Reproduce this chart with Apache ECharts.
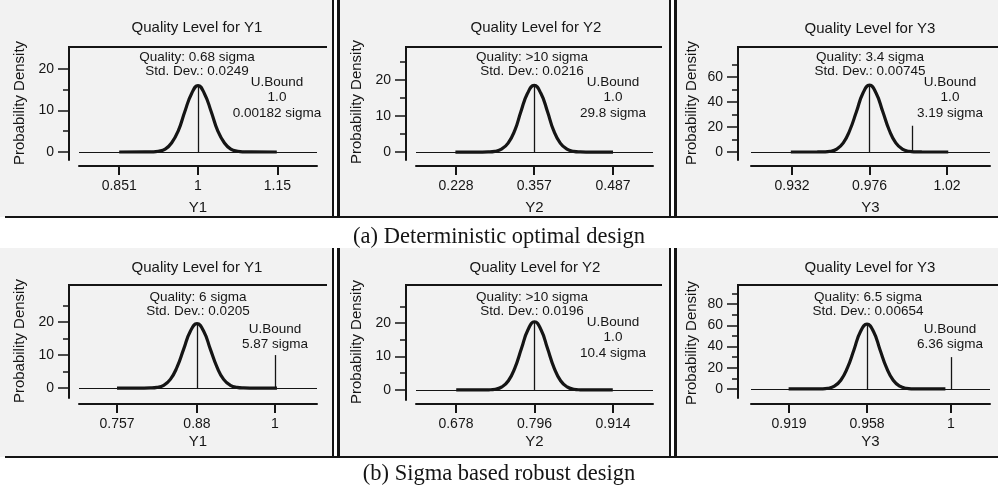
<!DOCTYPE html>
<html>
<head>
<meta charset="utf-8">
<script src="https://cdn.jsdelivr.net/npm/echarts@6.0.0/dist/echarts.min.js"></script>
<style>
html, body { margin: 0; padding: 0; background: #fff; }
#wrap { position: relative; width: 998px; height: 490px; }
#wrap .bg { position: absolute; z-index: 0; }
#chart { position: absolute; left: 0; top: 0; width: 998px; height: 490px; z-index: 1; }
</style>
</head>
<body>
<div id="wrap"><div id="chart"></div></div>
<script>
// (a) deterministic optimal design - density curves
var a1X = [0.851, 0.900, 0.913, 0.925, 0.938, 0.950, 0.963, 0.975, 0.988, 1.000, 1.012, 1.025, 1.037, 1.050, 1.062, 1.075, 1.087, 1.100, 1.149];
var a1Y = [0, 0.005, 0.035, 0.18, 0.70, 2.17, 5.20, 9.70, 14.1, 16.0, 14.1, 9.70, 5.20, 2.17, 0.70, 0.18, 0.035, 0.005, 0];
var a2X = [0.227, 0.271, 0.281, 0.292, 0.303, 0.314, 0.325, 0.335, 0.346, 0.357, 0.368, 0.379, 0.389, 0.400, 0.411, 0.422, 0.433, 0.443, 0.487];
var a2Y = [0, 0.006, 0.04, 0.21, 0.81, 2.50, 6.01, 11.2, 16.3, 18.5, 16.3, 11.2, 6.01, 2.50, 0.81, 0.21, 0.04, 0.006, 0];
var a3X = [0.9313, 0.9462, 0.9499, 0.9537, 0.9574, 0.9611, 0.9648, 0.9686, 0.9723, 0.976, 0.9797, 0.9835, 0.9872, 0.9909, 0.9946, 0.9984, 1.0021, 1.0058, 1.0207];
var a3Y = [0, 0.02, 0.12, 0.59, 2.35, 7.24, 17.4, 32.4, 47.2, 53.5, 47.2, 32.4, 17.4, 7.24, 2.35, 0.59, 0.12, 0.02, 0];

// (b) sigma based robust design
var b1X = [0.757, 0.798, 0.8083, 0.8185, 0.8288, 0.839, 0.8493, 0.8595, 0.8698, 0.88, 0.8903, 0.9005, 0.9108, 0.921, 0.9313, 0.9415, 0.9518, 0.962, 1.003];
var b1Y = [0, 0.007, 0.043, 0.22, 0.86, 2.64, 6.33, 11.8, 17.2, 19.5, 17.2, 11.8, 6.33, 2.64, 0.86, 0.22, 0.043, 0.007, 0];
var b2X = [0.6784, 0.7176, 0.7274, 0.7372, 0.747, 0.7568, 0.7666, 0.7764, 0.7862, 0.796, 0.8058, 0.8156, 0.8254, 0.8352, 0.845, 0.8548, 0.8646, 0.8744, 0.9136];
var b2Y = [0, 0.007, 0.045, 0.23, 0.90, 2.76, 6.62, 12.4, 18.0, 20.4, 18.0, 12.4, 6.62, 2.76, 0.90, 0.23, 0.045, 0.007, 0];
var b3X = [0.9188, 0.9318, 0.9351, 0.9384, 0.9417, 0.9449, 0.9482, 0.9515, 0.9547, 0.958, 0.9613, 0.9645, 0.9678, 0.9711, 0.9744, 0.9776, 0.9809, 0.9842, 0.9972];
var b3Y = [0, 0.02, 0.13, 0.68, 2.68, 8.25, 19.8, 37.0, 53.8, 61.0, 53.8, 37.0, 19.8, 8.25, 2.68, 0.68, 0.13, 0.02, 0];

// x tick labels (left, mean, right)
var a1Ticks = [0.851, 1, 1.15];
var a2Ticks = [0.228, 0.357, 0.487];
var a3Ticks = [0.932, 0.976, 1.02];
var b1Ticks = [0.757, 0.88, 1];
var b2Ticks = [0.678, 0.796, 0.914];
var b3Ticks = [0.919, 0.958, 1];

// y ticks
var yTicks20 = [0, 10, 20];
var yMinor20 = [5, 15, 25];
var yTicksA3 = [0, 20, 40, 60];
var yTicksB3 = [0, 20, 40, 60, 80];
var yMinor80 = [10, 30, 50, 70, 90];

// upper bound marker [x, height] (null = not visible)
var a3BoundLine = [1.0, 21];
var b1BoundLine = [1.0, 10];
var b3BoundLine = [1.0, 30];

// texts
var a1Info = ['Quality: 0.68 sigma', 'Std. Dev.: 0.0249'];
var a2Info = ['Quality: >10 sigma', 'Std. Dev.: 0.0216'];
var a3Info = ['Quality: 3.4 sigma', 'Std. Dev.: 0.00745'];
var b1Info = ['Quality: 6 sigma', 'Std. Dev.: 0.0205'];
var b2Info = ['Quality: >10 sigma', 'Std. Dev.: 0.0196'];
var b3Info = ['Quality: 6.5 sigma', 'Std. Dev.: 0.00654'];
var a1Bound = ['U.Bound', '1.0', '0.00182 sigma'];
var a2Bound = ['U.Bound', '1.0', '29.8 sigma'];
var a3Bound = ['U.Bound', '1.0', '3.19 sigma'];
var b1Bound = ['U.Bound', '5.87 sigma'];
var b2Bound = ['U.Bound', '1.0', '10.4 sigma'];
var b3Bound = ['U.Bound', '6.36 sigma'];
var varNames = ['Y1', 'Y2', 'Y3'];
var captions = ['(a) Deterministic optimal design', '(b) Sigma based robust design'];

var panels = [
    {x: a1X, y: a1Y, ticks: a1Ticks, yt: yTicks20, ym: yMinor20, bl: null, info: a1Info, bound: a1Bound, name: varNames[0]},
    {x: a2X, y: a2Y, ticks: a2Ticks, yt: yTicks20, ym: yMinor20, bl: null, info: a2Info, bound: a2Bound, name: varNames[1]},
    {x: a3X, y: a3Y, ticks: a3Ticks, yt: yTicksA3, ym: yMinor80, bl: a3BoundLine, info: a3Info, bound: a3Bound, name: varNames[2]},
    {x: b1X, y: b1Y, ticks: b1Ticks, yt: yTicks20, ym: yMinor20, bl: b1BoundLine, info: b1Info, bound: b1Bound, name: varNames[0]},
    {x: b2X, y: b2Y, ticks: b2Ticks, yt: yTicks20, ym: yMinor20, bl: null, info: b2Info, bound: b2Bound, name: varNames[1]},
    {x: b3X, y: b3Y, ticks: b3Ticks, yt: yTicksB3, ym: yMinor80, bl: b3BoundLine, info: b3Info, bound: b3Bound, name: varNames[2]}
];

// pixel layout of each panel
var layout = [
    {yx: 69, x0: 79, x1: 317, top: 54, bottom: 160, xAxisY: 166, boxTop: 47, boxRight: 327, yMin: -1.93, yMax: 23.6, xMin: 0.775, xMax: 1.225, title: [197, 28], yName: [20, 103], nameY: 208, info: [197, 57], bound: [277, 82]},
    {yx: 406, x0: 416, x1: 653, top: 62, bottom: 160, xAxisY: 166, boxTop: 47, boxRight: 662, yMin: -2.2, yMax: 25, xMin: 0.162, xMax: 0.553, title: [536, 28], yName: [357, 102], nameY: 208, info: [532, 57], bound: [613, 82]},
    {yx: 738, x0: 751, x1: 990, top: 55, bottom: 160, xAxisY: 166, boxTop: 47, boxRight: 998, yMin: -6.4, yMax: 77.6, xMin: 0.9087, xMax: 1.0444, title: [870, 29], yName: [692, 103], nameY: 208, info: [870, 57], bound: [950, 82]},
    {yx: 69, x0: 79, x1: 317, top: 293, bottom: 398, xAxisY: 404, boxTop: 285, boxRight: 327, yMin: -3.0, yMax: 28.8, xMin: 0.6985, xMax: 1.0646, title: [197, 268], yName: [20, 341], nameY: 442, info: [198, 297], bound: [275, 329]},
    {yx: 406, x0: 416, x1: 653, top: 297, bottom: 400, xAxisY: 404, boxTop: 285, boxRight: 662, yMin: -3.0, yMax: 27.8, xMin: 0.618, xMax: 0.974, title: [535, 268], yName: [357, 342], nameY: 442, info: [532, 297], bound: [613, 322]},
    {yx: 738, x0: 751, x1: 990, top: 290, bottom: 398, xAxisY: 404, boxTop: 285, boxRight: 998, yMin: -8.5, yMax: 93.2, xMin: 0.900, xMax: 1.0195, title: [870, 268], yName: [692, 343], nameY: 442, info: [868, 297], bound: [950, 329]}
];

var SANS = 'Liberation Sans, Arial, sans-serif';
var SERIF = 'Liberation Serif, Times New Roman, serif';
var INK = '#151515';

// light grey panel fills and white plot boxes sit behind the (transparent) chart canvas
var wrap = document.getElementById('wrap');
function bgBox (x, y, w, h, color) {
    var d = document.createElement('div');
    d.className = 'bg';
    d.style.left = x + 'px';
    d.style.top = y + 'px';
    d.style.width = w + 'px';
    d.style.height = h + 'px';
    d.style.background = color;
    wrap.insertBefore(d, wrap.firstChild);
}
var cols = [[0, 333], [339, 670], [676, 998]];
var rows = [[0, 217], [248, 457]];
rows.forEach(function (r) {
    cols.forEach(function (c) {
        bgBox(c[0], r[0], c[1] - c[0], r[1] - r[0], '#f2f2f2');
    });
});
layout.forEach(function (L) {
    bgBox(L.yx, L.boxTop, L.boxRight - L.yx, L.xAxisY - L.boxTop, '#ffffff');
});

var chart = echarts.init(document.getElementById('chart'), null, {renderer: 'canvas'});

var grids = [], xAxes = [], yAxes = [], series = [], graphics = [];

function txt (x, y, text, size, font, extra) {
    var el = {
        type: 'text', x: x, y: y, silent: true, z: 10,
        style: {text: text, font: size + 'px ' + (font || SANS), fill: INK, align: 'center', verticalAlign: 'middle'}
    };
    if (extra) { Object.assign(el, extra); }
    return el;
}
function line (x1, y1, x2, y2, w) {
    return {type: 'line', silent: true, z: 5, shape: {x1: x1, y1: y1, x2: x2, y2: y2}, style: {stroke: INK, lineWidth: w}};
}

// panel frames
rows.forEach(function (r) {
    graphics.push(line(5, r[1], 998, r[1], 2));
    graphics.push(line(333, r[0], 333, r[1], 2));
    graphics.push(line(338.5, r[0], 338.5, r[1], 3));
    graphics.push(line(670, r[0], 670, r[1], 2));
    graphics.push(line(675.5, r[0], 675.5, r[1], 3));
});
graphics.push(txt(499, 237, captions[0], 22.5, SERIF));
graphics.push(txt(499, 474, captions[1], 22.5, SERIF));

function fmt (v) {
    return String(Math.round(v * 1000) / 1000);
}

panels.forEach(function (p, i) {
    var L = layout[i];
    grids.push({left: L.x0, top: L.top, width: L.x1 - L.x0, height: L.bottom - L.top});
    xAxes.push({
        type: 'value', gridIndex: i, min: L.xMin, max: L.xMax, position: 'bottom',
        offset: L.xAxisY - L.bottom,
        axisLine: {show: true, onZero: false, lineStyle: {color: INK, width: 2}},
        axisTick: {show: true, length: 9, customValues: p.ticks, lineStyle: {color: INK, width: 2}},
        axisLabel: {show: true, customValues: p.ticks, formatter: fmt, margin: 13, color: INK, fontSize: 14, fontFamily: SANS},
        splitLine: {show: false}
    });
    yAxes.push({
        type: 'value', gridIndex: i, min: L.yMin, max: L.yMax, position: 'left',
        offset: L.x0 - L.yx,
        axisLine: {show: true, onZero: false, lineStyle: {color: INK, width: 2}},
        axisTick: {show: true, length: 11, customValues: p.yt, lineStyle: {color: INK, width: 1.5}},
        axisLabel: {show: true, customValues: p.yt, margin: 15, color: INK, fontSize: 14, fontFamily: SANS},
        splitLine: {show: false}
    });
    yAxes.push({
        type: 'value', gridIndex: i, min: L.yMin, max: L.yMax, position: 'left',
        offset: L.x0 - L.yx,
        axisLine: {show: false},
        axisTick: {show: true, length: 6, customValues: p.ym, lineStyle: {color: INK, width: 1.5}},
        axisLabel: {show: false},
        splitLine: {show: false}
    });

    var mean = p.ticks[1];
    var peak = Math.max.apply(null, p.y);
    var marks = [
        {yAxis: 0, lineStyle: {width: 1.2}},
        [{coord: [mean, 0]}, {coord: [mean, peak]}]
    ];
    if (p.bl) {
        marks.push([{coord: [p.bl[0], 0]}, {coord: [p.bl[0], p.bl[1]]}]);
    }
    series.push({
        type: 'line', xAxisIndex: i, yAxisIndex: i * 2,
        data: p.x.map(function (v, k) { return [v, p.y[k]]; }),
        smooth: 0.5, symbol: 'none', animation: false,
        lineStyle: {color: INK, width: 3.2},
        markLine: {
            silent: true, symbol: ['none', 'none'], animation: false,
            label: {show: false},
            lineStyle: {color: INK, width: 1.3, type: 'solid'},
            data: marks
        },
        z: 3
    });

    graphics.push(line(L.yx - 1, L.boxTop, L.boxRight, L.boxTop, 2));
    graphics.push(line(L.yx, L.boxTop, L.yx, L.bottom, 2));

    graphics.push(txt(L.title[0], L.title[1], 'Quality Level for ' + p.name, 15));
    graphics.push(txt(L.yName[0], L.yName[1], 'Probability Density', 15, SANS, {rotation: Math.PI / 2}));
    graphics.push(txt((L.x0 + L.x1) / 2, L.nameY, p.name, 15));
    p.info.forEach(function (s, k) {
        graphics.push(txt(L.info[0], L.info[1] + k * 14.5, s, 13.5));
    });
    p.bound.forEach(function (s, k) {
        graphics.push(txt(L.bound[0], L.bound[1] + k * 15.5, s, 13.5));
    });
});

chart.setOption({
    animation: false,
    backgroundColor: 'transparent',
    grid: grids,
    xAxis: xAxes,
    yAxis: yAxes,
    series: series,
    graphic: {elements: graphics}
});
</script>
</body>
</html>
